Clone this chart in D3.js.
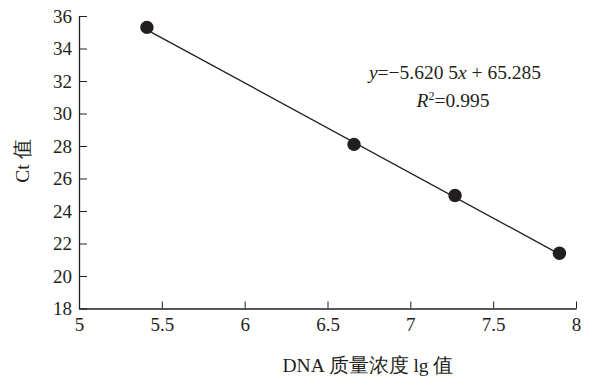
<!DOCTYPE html>
<html>
<head>
<meta charset="utf-8">
<script src="https://cdn.jsdelivr.net/npm/d3@7"></script>
<style>
  body { margin: 0; background: #fff; }
  text { font-family: "Liberation Serif", "Times New Roman", serif; fill: #231f20; }
  .axis path, .axis line { stroke: #231f20; }
</style>
</head>
<body>
<figure style="margin:0"></figure>
<script>
var W = 596, H = 377;

// data
var lgConc = [5.41, 6.66, 7.27, 7.90];
var ctVals = [35.3, 28.1, 24.95, 21.4];
// fitted line end points
var fitX = [5.41, 7.90];
var fitY = [35.15, 21.35];
var xTicks = [5, 5.5, 6, 6.5, 7, 7.5, 8];
var yTicks = [18, 20, 22, 24, 26, 28, 30, 32, 34, 36];

var margin = {top: 16, right: 20, bottom: 68, left: 79},
    width = 576 - margin.left,
    height = 308.5 - margin.top;

var svg = d3.select("figure").append("svg")
    .attr("width", W)
    .attr("height", H)
    .append("g")
    .attr("transform", "translate(" + margin.left + "," + margin.top + ")");

var x = d3.scaleLinear().domain([5, 8]).range([0, width]);
var y = d3.scaleLinear().domain([18, 36]).range([height, 0]);

// X axis, ticks pointing inward
var xaxis = svg.append("g")
    .attr("class", "x axis")
    .attr("transform", "translate(0," + height + ")")
    .call(d3.axisBottom(x).tickValues(xTicks).tickSize(-7).tickSizeOuter(0)
          .tickFormat(d3.format("")));
xaxis.selectAll("text")
    .attr("y", 9).attr("dy", "0.71em")
    .style("font-size", "19px");

// Y axis
var yaxis = svg.append("g")
    .attr("class", "y axis")
    .call(d3.axisLeft(y).tickValues(yTicks).tickSize(-8).tickSizeOuter(0));
yaxis.selectAll("text")
    .attr("x", -7)
    .style("font-size", "19px");
svg.selectAll(".axis path").attr("stroke-width", 1.3);
svg.selectAll(".axis .tick line").attr("stroke-width", 1);
svg.selectAll(".axis text").attr("fill", "#231f20");

// fitted line
svg.append("path")
    .datum(d3.zip(fitX, fitY))
    .attr("fill", "none")
    .attr("stroke", "#231f20")
    .attr("stroke-width", 1.3)
    .attr("d", d3.line()
        .x(function(d) { return x(d[0]); })
        .y(function(d) { return y(d[1]); }));

// points
svg.append("g").selectAll("circle")
    .data(d3.zip(lgConc, ctVals))
    .enter()
    .append("circle")
    .attr("r", 6.7)
    .attr("cx", function(d) { return x(d[0]); })
    .attr("cy", function(d) { return y(d[1]); })
    .attr("fill", "#231f20");

// equation
var eq = svg.append("text")
    .attr("x", 455 - margin.left)
    .attr("y", 79 - margin.top)
    .attr("text-anchor", "middle")
    .style("font-size", "19.5px");
eq.append("tspan").style("font-style", "italic").text("y");
eq.append("tspan").text("=\u22125.620 5");
eq.append("tspan").style("font-style", "italic").text("x");
eq.append("tspan").text(" + 65.285");

var r2 = svg.append("text")
    .attr("x", 453 - margin.left)
    .attr("y", 107 - margin.top)
    .attr("text-anchor", "middle")
    .style("font-size", "19.5px");
r2.append("tspan").style("font-style", "italic").text("R");
r2.append("tspan").attr("dy", -7).style("font-size", "12px").text("2");
r2.append("tspan").attr("dy", 7).text("=0.995");

// axis titles
svg.append("text")
    .attr("x", 368 - margin.left)
    .attr("y", 372 - margin.top)
    .attr("text-anchor", "middle")
    .style("font-size", "19.5px")
    .text("DNA 质量浓度 lg 值");

svg.append("text")
    .attr("transform", "translate(" + (29 - margin.left) + "," + (161 - margin.top) + ") rotate(-90)")
    .attr("text-anchor", "middle")
    .style("font-size", "19.5px")
    .text("Ct 值");
</script>
</body>
</html>
